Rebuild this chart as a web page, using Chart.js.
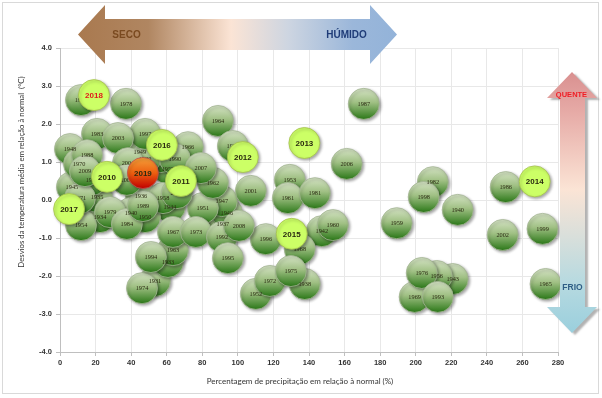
<!DOCTYPE html>
<html><head><meta charset="utf-8">
<script src="https://cdn.jsdelivr.net/npm/chart.js@4.4.0/dist/chart.umd.min.js"></script>
<style>html,body{margin:0;padding:0;background:#fff;}#wrap{width:602px;height:398px;position:relative;}</style>
</head><body><div id="wrap"><canvas id="c" width="602" height="398"></canvas></div>
<script>
// Regular years (green bubbles)
const greenLabels = ['1931','1933','1934','1935','1936','1937','1938','1940','1940','1942','1943','1944','1945','1946','1947','1948','1949','1950','1951','1952','1953','1954','1955','1956','1957','1958','1959','1960','1961','1962','1963','1964','1965','1966','1967','1968','1969','1970','1971','1972','1973','1974','1975','1976','1977','1978','1979','1980','1981','1982','1983','1984','1986','1987','1988','1989','1989','1990','1991','1992','1993','1994','1995','1996','1997','1998','1999','2000','2001','2002','2003','2004','2005','2006','2007','2008','2009'];
const greenPrecip = [53.4,60.7,22.5,20.8,45.5,91.6,137.6,39.9,223.6,147.2,220.8,61.8,6.7,93.8,91.0,5.6,44.9,47.8,80.3,110.1,129.2,11.8,18.0,211.8,60.7,57.9,189.3,153.4,128.1,86.0,63.5,88.8,273.0,71.9,63.5,134.8,199.4,10.7,11.2,118.0,76.4,46.1,129.8,203.4,56.7,37.1,28.1,47.8,143.3,209.6,20.8,37.6,250.6,170.8,15.2,11.8,46.6,64.6,97.2,91.0,212.4,51.1,94.4,115.7,47.8,204.5,271.3,65.7,107.3,248.9,32.6,38.2,37.6,161.2,79.2,100.6,14.0];
const greenTemp = [-2.13,-1.63,-0.45,0.08,0.11,-0.63,-2.21,-0.34,-0.26,-0.82,-2.08,-0.18,0.34,-0.34,-0.03,1.34,1.26,-0.45,-0.21,-2.47,0.53,-0.66,0.53,-2.00,0.82,0.05,-0.61,-0.66,0.05,0.45,-1.32,2.08,-2.21,1.39,-0.84,-1.29,-2.55,0.95,0.05,-2.13,-0.84,-2.32,-1.87,-1.92,1.13,2.53,-0.32,1.08,0.18,0.47,1.74,-0.63,0.34,2.53,1.18,2.63,-0.16,1.08,1.42,-0.97,-2.55,-1.50,-1.53,-1.03,1.74,0.08,-0.76,0.18,0.24,-0.92,1.63,0.97,0.53,0.95,0.84,-0.68,0.76];
// Recent years (highlighted bubbles)
const hotLabels = ['2010','2011','2012','2013','2014','2015','2016','2017','2018','2019'];
const hotPrecip = [26.4,68.0,102.8,137.4,266.9,130.3,57.3,5.1,19.1,46.6];
const hotTemp = [0.61,0.50,1.13,1.50,0.49,-0.89,1.45,-0.24,2.76,0.71];
// Axis titles and arrow texts
const xTitle = 'Percentagem de precipitação em relação à normal (%)';
const yTitle = 'Desvios da temperatura média em relação à normal  (°C)';
const arrowTexts = {dry:'SECO', wet:'HÚMIDO', hot:'QUENTE', cold:'FRIO'};

const R = 15.5;
function greenFill(ctx){
  const chart = ctx.chart;
  if (ctx.type !== 'data' || !chart.chartArea) return '#7aa35a';
  const y = chart.scales.y.getPixelForValue(ctx.raw.y);
  const g = chart.ctx.createLinearGradient(0, y - R, 0, y + R);
  g.addColorStop(0, '#d6e4c6');
  g.addColorStop(0.45, '#a0c084');
  g.addColorStop(1, '#2b7818');
  return g;
}
function hotFill(ctx){
  const chart = ctx.chart;
  if (ctx.type !== 'data' || !chart.chartArea) return '#ccff66';
  if (hotLabels[ctx.dataIndex] === '2019') {
    const y = chart.scales.y.getPixelForValue(ctx.raw.y);
    const g = chart.ctx.createLinearGradient(0, y - R, 0, y + R);
    g.addColorStop(0, '#f5a03a');
    g.addColorStop(0.5, '#ec5f10');
    g.addColorStop(1, '#c20000');
    return g;
  }
  return '#ccff66';
}

const deco = {
  id: 'deco',
  beforeDraw(chart){
    const c = chart.ctx;
    c.save();
    c.strokeStyle = '#d9d9d9'; c.lineWidth = 1;
    c.strokeRect(2.5, 2.5, 596, 391);
    c.restore();
  },
  beforeDatasetDraw(chart){
    const c = chart.ctx;
    c.save();
    c.shadowColor = 'rgba(0,0,0,0.35)';
    c.shadowBlur = 3; c.shadowOffsetX = 1.5; c.shadowOffsetY = 1.5;
  },
  afterDatasetDraw(chart, args){
    const c = chart.ctx;
    c.restore();
    const meta = args.meta;
    const isHot = args.index === 1;
    const labels = isHot ? hotLabels : greenLabels;
    c.save();
    c.textAlign = 'center'; c.textBaseline = 'middle';
    meta.data.forEach((el, i) => {
      if (isHot) {
        c.font = 'bold 8px "Liberation Sans"';
        c.fillStyle = labels[i] === '2018' ? '#e01b1b' : '#2a2a10';
      } else {
        c.font = '6.3px "Liberation Serif"';
        c.fillStyle = '#2b2b12';
      }
      c.fillText(labels[i], el.x, el.y + 0.5);
    });
    c.restore();
  },
  afterDraw(chart){
    const c = chart.ctx;
    c.save();
    // horizontal arrow
    c.beginPath();
    c.moveTo(78,34.5); c.lineTo(105,5); c.lineTo(105,19); c.lineTo(370,19); c.lineTo(370,5);
    c.lineTo(397,34.5); c.lineTo(370,64); c.lineTo(370,50); c.lineTo(105,50); c.lineTo(105,64); c.closePath();
    let g = c.createLinearGradient(78,0,397,0);
    g.addColorStop(0,'#a9794f'); g.addColorStop(0.22,'#b08661'); g.addColorStop(0.48,'#fbe4d5');
    g.addColorStop(0.66,'#cdd5e1'); g.addColorStop(0.86,'#9bb7da'); g.addColorStop(1,'#93b3d9');
    c.fillStyle = g; c.fill();
    c.font = 'bold 10px "Liberation Sans"'; c.textAlign='center'; c.textBaseline='middle';
    c.fillStyle = '#7a4a20'; c.fillText(arrowTexts.dry, 126.5, 35);
    c.fillStyle = '#1f3c78'; c.fillText(arrowTexts.wet, 346.5, 35);
    // vertical arrow
    c.save();
    c.shadowColor='rgba(0,0,0,0.3)'; c.shadowBlur=2; c.shadowOffsetX=3; c.shadowOffsetY=2;
    c.beginPath();
    c.moveTo(572,72); c.lineTo(597,98); c.lineTo(585,98); c.lineTo(585,307); c.lineTo(597,307);
    c.lineTo(572,333); c.lineTo(547,307); c.lineTo(560,307); c.lineTo(560,98); c.lineTo(547,98); c.closePath();
    g = c.createLinearGradient(0,72,0,333);
    g.addColorStop(0,'#d99090'); g.addColorStop(0.15,'#e6aaa6'); g.addColorStop(0.45,'#fbe4d5');
    g.addColorStop(0.8,'#b8dae0'); g.addColorStop(1,'#9acfdd');
    c.fillStyle = g; c.fill();
    c.restore();
    c.font = 'bold 7.5px "Liberation Sans"';
    c.fillStyle = '#f01c24'; c.fillText(arrowTexts.hot, 571.5, 95);
    c.font = 'bold 8.5px "Liberation Sans"';
    c.fillStyle = '#2f5e85'; c.fillText(arrowTexts.cold, 572.5, 288);
    // axis titles
    c.fillStyle = '#333';
    c.font = '8px Lato';
    c.fillText(xTitle, 300, 381);
    c.save();
    c.translate(21, 172); c.rotate(-Math.PI/2);
    c.font = '7.8px Lato';
    c.fillText(yTitle, 0, 0);
    c.restore();
    c.restore();
  }
};

new Chart(document.getElementById('c'), {
  type: 'bubble',
  data: {
    datasets: [
      { data: greenPrecip.map((x,i)=>({x, y: greenTemp[i]})), radius: R, hoverRadius: 0,
        backgroundColor: greenFill, borderColor: '#a3b593', borderWidth: 0.8, order: 1, clip: false },
      { data: hotPrecip.map((x,i)=>({x, y: hotTemp[i]})), radius: R, hoverRadius: 0,
        backgroundColor: hotFill, borderColor: ctx => hotLabels[ctx.dataIndex]==='2019' ? '#c0504d' : '#a6c24e', borderWidth: 0.8, order: 0, clip: false }
    ]
  },
  options: {
    responsive: false, animation: false, events: [], devicePixelRatio: 1,
    layout: { padding: { left: 0, right: 44, top: 48, bottom: 0 } },
    plugins: { legend: { display: false }, tooltip: { enabled: false } },
    scales: {
      x: { type: 'linear', min: 0, max: 280,
        ticks: { stepSize: 20, color: '#333', font: { family: 'Liberation Sans', weight: 'bold', size: 7.5 }, padding: 2, maxRotation: 0 },
        grid: { color: '#e8e8e8', tickColor: '#bfbfbf', tickLength: 4 },
        border: { color: '#bfbfbf' },
        afterFit(s){ s.height = 46; } },
      y: { type: 'linear', min: -4, max: 4,
        ticks: { stepSize: 1, color: '#333', font: { family: 'Liberation Sans', weight: 'bold', size: 7.5 }, padding: 4, callback: v => v.toFixed(1) },
        grid: { color: '#e8e8e8', tickColor: '#bfbfbf', tickLength: 4 },
        border: { color: '#bfbfbf' },
        afterFit(s){ s.width = 60; } }
    }
  },
  plugins: [deco]
});
</script></body></html>
